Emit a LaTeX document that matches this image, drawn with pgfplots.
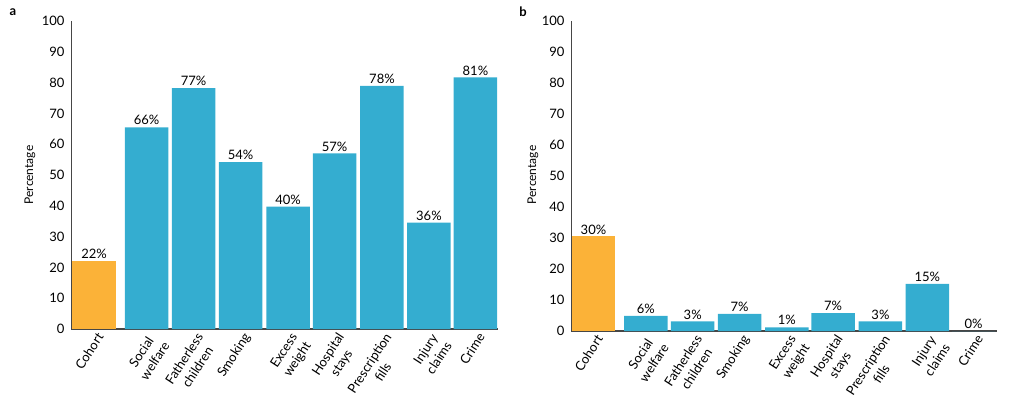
\documentclass[border=0pt]{standalone}
\usepackage{pgfplots}
\pgfplotsset{compat=1.18}
\usepackage{fontspec}
\setmainfont{Lato}
\definecolor{cohort}{RGB}{251,178,56}
\definecolor{barblue}{RGB}{52,173,208}
\definecolor{axgray}{RGB}{70,70,70}
\begin{document}
\begin{tikzpicture}
\path[use as bounding box] (0pt,0pt) rectangle (1023pt,-404pt);
\pgfplotsset{
  mybars/.style={
    scale only axis,
    ybar, bar shift=0pt, bar width=43.5pt,
    ymin=0, ymax=100,
    ytick={0,10,...,100},
    xmin=-0.49, xmax=8.6,
    xtick={0,1.12,2.12,3.12,4.13,5.12,6.13,7.13,8.12},
    xticklabels={Cohort,Social\\welfare,Fatherless\\children,Smoking,Excess\\weight,Hospital\\stays,Prescription\\fills,Injury\\claims,Crime},
    xticklabel style={rotate=57, anchor=north east, align=center, font=\fontsize{13}{16}\selectfont, inner sep=1pt, yshift=-2pt},
    yticklabel style={font=\fontsize{13}{13}\selectfont, xshift=-3pt},
    /pgf/number format/assume math mode=true,
    axis x line*=bottom, axis y line*=left,
    x axis line style={axgray, line width=1.4pt, -},
    y axis line style={axgray, line width=0.8pt, -},
    major tick length=0pt,
    tick style={draw=none},
    point meta=explicit symbolic,
    nodes near coords,
    every node near coord/.append style={font=\fontsize{13}{13}\selectfont, text=black, inner sep=2pt},
    clip=false,
  }
}
\begin{axis}[mybars, width=427pt, height=308pt, at={(71pt,-329pt)}, anchor=south west]
\addplot[fill=cohort, draw=none] coordinates {(0,22) [22\%]};
\addplot[fill=barblue, draw=none] coordinates {
(1.12,65.5) [66\%]
(2.12,78.2) [77\%]
(3.12,54.2) [54\%]
(4.13,39.7) [40\%]
(5.12,57.0) [57\%]
(6.13,78.9) [78\%]
(7.13,34.5) [36\%]
(8.12,81.7) [81\%]
};
\end{axis}
\begin{axis}[mybars, width=426pt, height=310pt, at={(571pt,-331pt)}, anchor=south west, xmin=-0.48, xmax=8.62]
\addplot[fill=cohort, draw=none] coordinates {(0,30.5) [30\%]};
\addplot[fill=barblue, draw=none] coordinates {
(1.12,4.9) [6\%]
(2.12,3.1) [3\%]
(3.12,5.5) [7\%]
(4.13,1.2) [1\%]
(5.12,5.8) [7\%]
(6.13,3.1) [3\%]
(7.13,15.2) [15\%]
(8.12,0) [0\%]
};
\end{axis}
\node[font=\bfseries\fontsize{13}{13}\selectfont] at (13pt,-12pt) {a};
\node[font=\bfseries\fontsize{13}{13}\selectfont] at (523pt,-12pt) {b};
\node[rotate=90, font=\fontsize{12}{12}\selectfont] at (30pt,-175pt) {Percentage};
\node[rotate=90, font=\fontsize{12}{12}\selectfont] at (533pt,-175pt) {Percentage};
\end{tikzpicture}
\end{document}
